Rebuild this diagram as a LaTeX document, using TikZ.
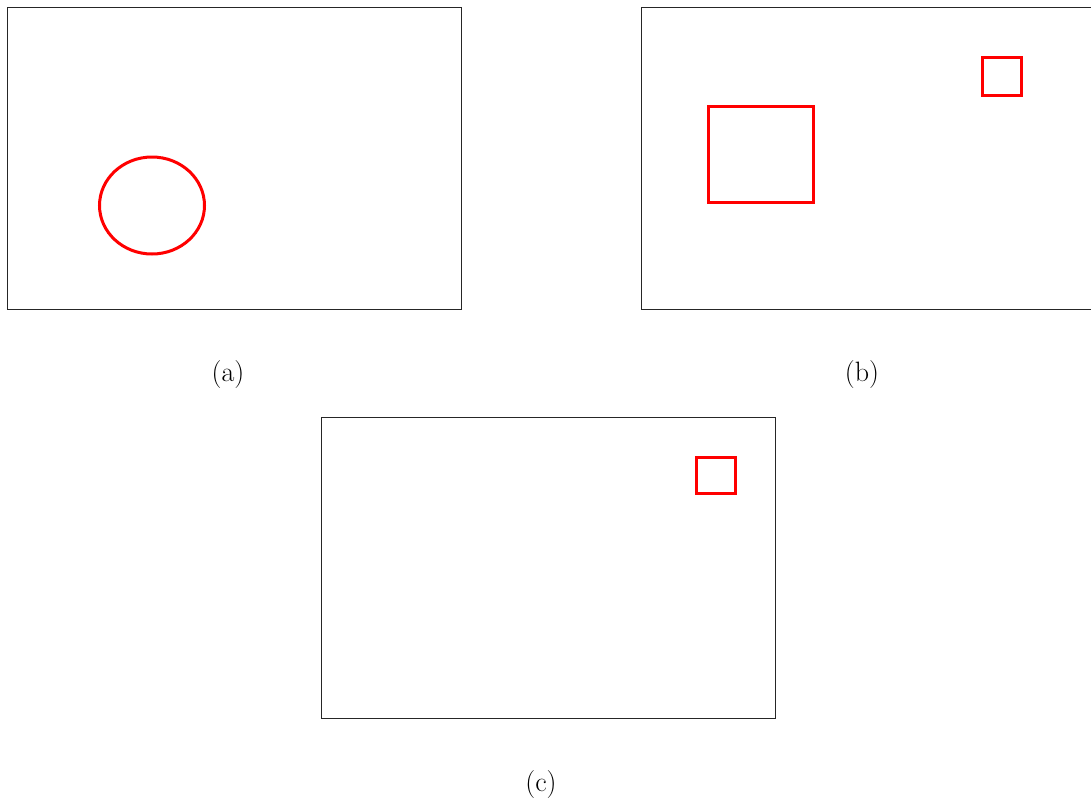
\documentclass[tikz,border=0pt]{standalone}
\begin{document}
\begin{tikzpicture}[x=1pt,y=-1pt,
  frame/.style={draw=black!85,line width=0.9pt},
  redshape/.style={draw=red,line width=3pt},
  lbl/.style={inner sep=0pt,font=\fontsize{28}{31}\selectfont}]
\useasboundingbox (0,0) rectangle (1091,801);
\begin{scope}
\clip (0,0) rectangle (1091,801);
% (a)
\draw[frame] (7.5,7.5) rectangle (461.5,309.5);
\draw[redshape] (152,205.5) ellipse [x radius=52.5, y radius=48.5];
% (b)
\draw[frame] (641.5,7.5) rectangle (1095.5,309.5);
\draw[redshape] (708,106) rectangle (813,202);
\draw[redshape] (982,57) rectangle (1021,95);
% (c)
\draw[frame] (321.5,417.5) rectangle (775.5,718.5);
\draw[redshape] (696,457.5) rectangle (735,493.5);
\end{scope}
\node[lbl] (la) at (228,374.5) {(a)};
\node[lbl] (lb) at (862,374.5) {(b)};
\node[lbl] (lc) at (541,784.5) {(c)};
\end{tikzpicture}
\end{document}
